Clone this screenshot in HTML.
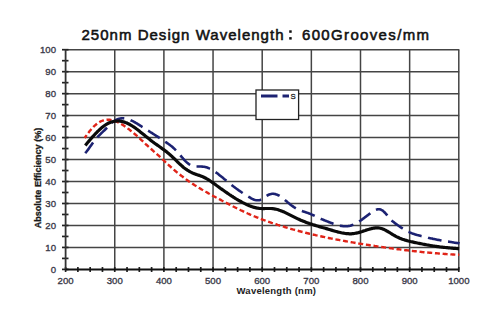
<!DOCTYPE html>
<html><head><meta charset="utf-8"><style>
html,body{margin:0;padding:0;background:#fff;width:500px;height:334px;overflow:hidden}
svg{display:block}
</style></head><body>
<svg width="500" height="334" viewBox="0 0 500 334">
<rect width="500" height="334" fill="#fff"/>
<g font-family="Liberation Sans, sans-serif" font-size="15" fill="#111" stroke="#111" stroke-width="0.55">
<text x="81.5" y="40" textLength="202" lengthAdjust="spacing">250nm Design Wavelength</text>
<rect x="289.2" y="30.3" width="2.5" height="2.5" stroke="none"/><rect x="289.2" y="37.1" width="2.5" height="2.5" stroke="none"/>
<text x="302" y="40" textLength="127" lengthAdjust="spacing">600Grooves/mm</text>
</g>
<g stroke="#444" stroke-width="1.5" fill="none">
<line x1="114.75" y1="49.6" x2="114.75" y2="269.4" /><line x1="163.90" y1="49.6" x2="163.90" y2="269.4" /><line x1="213.05" y1="49.6" x2="213.05" y2="269.4" /><line x1="262.20" y1="49.6" x2="262.20" y2="269.4" /><line x1="311.35" y1="49.6" x2="311.35" y2="269.4" /><line x1="360.50" y1="49.6" x2="360.50" y2="269.4" /><line x1="409.65" y1="49.6" x2="409.65" y2="269.4" /><line x1="458.80" y1="49.6" x2="458.80" y2="269.4" /><line x1="65.6" y1="247.43" x2="459.2" y2="247.43" /><line x1="65.6" y1="225.46" x2="459.2" y2="225.46" /><line x1="65.6" y1="203.49" x2="459.2" y2="203.49" /><line x1="65.6" y1="181.52" x2="459.2" y2="181.52" /><line x1="65.6" y1="159.55" x2="459.2" y2="159.55" /><line x1="65.6" y1="137.58" x2="459.2" y2="137.58" /><line x1="65.6" y1="115.61" x2="459.2" y2="115.61" /><line x1="65.6" y1="93.64" x2="459.2" y2="93.64" /><line x1="65.6" y1="71.67" x2="459.2" y2="71.67" /><line x1="65.6" y1="49.70" x2="459.2" y2="49.70" />
</g>
<rect x="256" y="90" width="42.6" height="29.5" fill="#fff" stroke="#222" stroke-width="1.3"/>
<g stroke="#222" stroke-width="1.7">
<line x1="62" y1="269.40" x2="68.5" y2="269.40" /><line x1="62" y1="258.41" x2="68.5" y2="258.41" /><line x1="62" y1="247.43" x2="68.5" y2="247.43" /><line x1="62" y1="236.44" x2="68.5" y2="236.44" /><line x1="62" y1="225.46" x2="68.5" y2="225.46" /><line x1="62" y1="214.47" x2="68.5" y2="214.47" /><line x1="62" y1="203.49" x2="68.5" y2="203.49" /><line x1="62" y1="192.50" x2="68.5" y2="192.50" /><line x1="62" y1="181.52" x2="68.5" y2="181.52" /><line x1="62" y1="170.53" x2="68.5" y2="170.53" /><line x1="62" y1="159.55" x2="68.5" y2="159.55" /><line x1="62" y1="148.56" x2="68.5" y2="148.56" /><line x1="62" y1="137.58" x2="68.5" y2="137.58" /><line x1="62" y1="126.59" x2="68.5" y2="126.59" /><line x1="62" y1="115.61" x2="68.5" y2="115.61" /><line x1="62" y1="104.62" x2="68.5" y2="104.62" /><line x1="62" y1="93.64" x2="68.5" y2="93.64" /><line x1="62" y1="82.65" x2="68.5" y2="82.65" /><line x1="62" y1="71.67" x2="68.5" y2="71.67" /><line x1="62" y1="60.69" x2="68.5" y2="60.69" /><line x1="62" y1="49.70" x2="68.5" y2="49.70" /><line x1="65.60" y1="267" x2="65.60" y2="272" /><line x1="77.89" y1="267" x2="77.89" y2="272" /><line x1="90.17" y1="267" x2="90.17" y2="272" /><line x1="102.46" y1="267" x2="102.46" y2="272" /><line x1="114.75" y1="267" x2="114.75" y2="272" /><line x1="127.04" y1="267" x2="127.04" y2="272" /><line x1="139.32" y1="267" x2="139.32" y2="272" /><line x1="151.61" y1="267" x2="151.61" y2="272" /><line x1="163.90" y1="267" x2="163.90" y2="272" /><line x1="176.19" y1="267" x2="176.19" y2="272" /><line x1="188.47" y1="267" x2="188.47" y2="272" /><line x1="200.76" y1="267" x2="200.76" y2="272" /><line x1="213.05" y1="267" x2="213.05" y2="272" /><line x1="225.34" y1="267" x2="225.34" y2="272" /><line x1="237.62" y1="267" x2="237.62" y2="272" /><line x1="249.91" y1="267" x2="249.91" y2="272" /><line x1="262.20" y1="267" x2="262.20" y2="272" /><line x1="274.49" y1="267" x2="274.49" y2="272" /><line x1="286.77" y1="267" x2="286.77" y2="272" /><line x1="299.06" y1="267" x2="299.06" y2="272" /><line x1="311.35" y1="267" x2="311.35" y2="272" /><line x1="323.64" y1="267" x2="323.64" y2="272" /><line x1="335.92" y1="267" x2="335.92" y2="272" /><line x1="348.21" y1="267" x2="348.21" y2="272" /><line x1="360.50" y1="267" x2="360.50" y2="272" /><line x1="372.79" y1="267" x2="372.79" y2="272" /><line x1="385.07" y1="267" x2="385.07" y2="272" /><line x1="397.36" y1="267" x2="397.36" y2="272" /><line x1="409.65" y1="267" x2="409.65" y2="272" /><line x1="421.94" y1="267" x2="421.94" y2="272" /><line x1="434.23" y1="267" x2="434.23" y2="272" /><line x1="446.51" y1="267" x2="446.51" y2="272" /><line x1="458.80" y1="267" x2="458.80" y2="272" />
</g>
<line x1="65.6" y1="49.6" x2="65.6" y2="269.5" stroke="#333" stroke-width="1.8"/>
<line x1="65.6" y1="269.5" x2="459.2" y2="269.5" stroke="#111" stroke-width="2"/>
<g font-family="Liberation Sans, sans-serif" font-size="9.6" fill="#3a3a4a" stroke="#3a3a4a" stroke-width="0.35" text-anchor="end">
<text x="56" y="272.60">0</text><text x="56" y="250.63">10</text><text x="56" y="228.66">20</text><text x="56" y="206.69">30</text><text x="56" y="184.72">40</text><text x="56" y="162.75">50</text><text x="56" y="140.78">60</text><text x="56" y="118.81">70</text><text x="56" y="96.84">80</text><text x="56" y="74.87">90</text><text x="56" y="52.90">100</text>
</g>
<g font-family="Liberation Sans, sans-serif" font-size="9.6" fill="#3a3a4a" stroke="#3a3a4a" stroke-width="0.35" text-anchor="middle">
<text x="65.60" y="283.5">200</text><text x="114.75" y="283.5">300</text><text x="163.90" y="283.5">400</text><text x="213.05" y="283.5">500</text><text x="262.20" y="283.5">600</text><text x="311.35" y="283.5">700</text><text x="360.50" y="283.5">800</text><text x="409.65" y="283.5">900</text><text x="458.80" y="283.5">1000</text>
</g>
<text x="236.5" y="293.5" textLength="79.5" lengthAdjust="spacing" font-family="Liberation Sans, sans-serif" font-weight="bold" font-size="9.5" fill="#222">Wavelength (nm)</text>
<text transform="translate(40.8,228.3) rotate(-90)" x="0" y="0" textLength="100.5" lengthAdjust="spacingAndGlyphs" font-family="Liberation Sans, sans-serif" font-weight="bold" font-size="9.5" fill="#1a1a1a" stroke="#1a1a1a" stroke-width="0.3">Absolute Efficiency (%)</text>
<g fill="none" stroke-linecap="butt" stroke-linejoin="round">
<path d="M84.7,138.0 L85.7,136.5 L86.7,135.1 L87.7,133.7 L88.7,132.4 L89.7,131.1 L90.7,129.9 L91.7,128.7 L92.7,127.7 L93.7,126.6 L94.7,125.7 L95.7,124.8 L96.7,124.0 L97.7,123.2 L98.7,122.6 L99.7,122.0 L100.7,121.4 L101.7,121.0 L102.7,120.6 L103.7,120.3 L104.7,120.0 L105.7,119.8 L106.7,119.7 L107.7,119.7 L108.7,119.7 L109.7,119.8 L110.7,119.9 L111.7,120.1 L112.7,120.3 L113.7,120.6 L114.7,120.9 L115.7,121.3 L116.7,121.7 L117.7,122.1 L118.7,122.6 L119.7,123.1 L120.7,123.7 L121.7,124.3 L122.7,124.9 L123.7,125.5 L124.7,126.2 L125.7,126.9 L126.7,127.6 L127.7,128.4 L128.7,129.1 L129.7,129.9 L130.7,130.7 L131.7,131.5 L132.7,132.3 L133.7,133.1 L134.7,134.0 L135.7,134.8 L136.7,135.7 L137.7,136.6 L138.7,137.5 L139.7,138.4 L140.7,139.4 L141.7,140.3 L142.7,141.2 L143.7,142.2 L144.7,143.1 L145.7,144.1 L146.7,145.0 L147.7,145.9 L148.7,146.8 L149.7,147.7 L150.7,148.6 L151.7,149.5 L152.7,150.4 L153.7,151.3 L154.7,152.2 L155.7,153.0 L156.7,153.9 L157.7,154.8 L158.7,155.7 L159.7,156.6 L160.7,157.6 L161.7,158.5 L162.7,159.4 L163.7,160.4 L164.7,161.3 L165.7,162.3 L166.7,163.2 L167.7,164.2 L168.7,165.1 L169.7,166.0 L170.7,166.9 L171.7,167.8 L172.7,168.7 L173.7,169.6 L174.7,170.4 L175.7,171.3 L176.7,172.1 L177.7,172.9 L178.7,173.7 L179.7,174.5 L180.7,175.3 L181.7,176.1 L182.7,176.8 L183.7,177.6 L184.7,178.3 L185.7,179.0 L186.7,179.8 L187.7,180.5 L188.7,181.2 L189.7,181.9 L190.7,182.5 L191.7,183.2 L192.7,183.9 L193.7,184.5 L194.7,185.2 L195.7,185.8 L196.7,186.4 L197.7,187.0 L198.7,187.7 L199.7,188.3 L200.7,188.9 L201.7,189.5 L202.7,190.0 L203.7,190.6 L204.7,191.2 L205.7,191.8 L206.7,192.3 L207.7,192.9 L208.7,193.5 L209.7,194.0 L210.7,194.6 L211.7,195.1 L212.7,195.7 L213.7,196.2 L214.7,196.7 L215.7,197.3 L216.7,197.8 L217.7,198.3 L218.7,198.9 L219.7,199.4 L220.7,199.9 L221.7,200.5 L222.7,201.0 L223.7,201.5 L224.7,202.0 L225.7,202.6 L226.7,203.1 L227.7,203.6 L228.7,204.1 L229.7,204.6 L230.7,205.2 L231.7,205.7 L232.7,206.2 L233.7,206.7 L234.7,207.2 L235.7,207.7 L236.7,208.2 L237.7,208.7 L238.7,209.2 L239.7,209.7 L240.7,210.2 L241.7,210.7 L242.7,211.1 L243.7,211.6 L244.7,212.1 L245.7,212.6 L246.7,213.0 L247.7,213.5 L248.7,213.9 L249.7,214.4 L250.7,214.8 L251.7,215.2 L252.7,215.7 L253.7,216.1 L254.7,216.5 L255.7,216.9 L256.7,217.3 L257.7,217.7 L258.7,218.1 L259.7,218.5 L260.7,218.9 L261.7,219.3 L262.7,219.7 L263.7,220.0 L264.7,220.4 L265.7,220.8 L266.7,221.1 L267.7,221.5 L268.7,221.8 L269.7,222.2 L270.7,222.5 L271.7,222.9 L272.7,223.2 L273.7,223.5 L274.7,223.9 L275.7,224.2 L276.7,224.5 L277.7,224.9 L278.7,225.2 L279.7,225.5 L280.7,225.8 L281.7,226.1 L282.7,226.4 L283.7,226.7 L284.7,227.0 L285.7,227.3 L286.7,227.6 L287.7,227.9 L288.7,228.2 L289.7,228.5 L290.7,228.8 L291.7,229.1 L292.7,229.4 L293.7,229.6 L294.7,229.9 L295.7,230.2 L296.7,230.5 L297.7,230.7 L298.7,231.0 L299.7,231.3 L300.7,231.5 L301.7,231.8 L302.7,232.0 L303.7,232.3 L304.7,232.5 L305.7,232.8 L306.7,233.0 L307.7,233.3 L308.7,233.5 L309.7,233.8 L310.7,234.0 L311.7,234.2 L312.7,234.5 L313.7,234.7 L314.7,234.9 L315.7,235.2 L316.7,235.4 L317.7,235.6 L318.7,235.9 L319.7,236.1 L320.7,236.3 L321.7,236.5 L322.7,236.7 L323.7,236.9 L324.7,237.1 L325.7,237.4 L326.7,237.6 L327.7,237.8 L328.7,238.0 L329.7,238.2 L330.7,238.4 L331.7,238.6 L332.7,238.8 L333.7,239.0 L334.7,239.2 L335.7,239.4 L336.7,239.6 L337.7,239.7 L338.7,239.9 L339.7,240.1 L340.7,240.3 L341.7,240.5 L342.7,240.7 L343.7,240.9 L344.7,241.0 L345.7,241.2 L346.7,241.4 L347.7,241.6 L348.7,241.8 L349.7,241.9 L350.7,242.1 L351.7,242.3 L352.7,242.4 L353.7,242.6 L354.7,242.8 L355.7,243.0 L356.7,243.1 L357.7,243.3 L358.7,243.5 L359.7,243.6 L360.7,243.8 L361.7,243.9 L362.7,244.1 L363.7,244.3 L364.7,244.4 L365.7,244.6 L366.7,244.7 L367.7,244.9 L368.7,245.0 L369.7,245.2 L370.7,245.4 L371.7,245.5 L372.7,245.7 L373.7,245.8 L374.7,246.0 L375.7,246.1 L376.7,246.3 L377.7,246.4 L378.7,246.6 L379.7,246.7 L380.7,246.9 L381.7,247.0 L382.7,247.1 L383.7,247.3 L384.7,247.4 L385.7,247.6 L386.7,247.7 L387.7,247.8 L388.7,248.0 L389.7,248.1 L390.7,248.3 L391.7,248.4 L392.7,248.5 L393.7,248.7 L394.7,248.8 L395.7,248.9 L396.7,249.1 L397.7,249.2 L398.7,249.3 L399.7,249.4 L400.7,249.6 L401.7,249.7 L402.7,249.8 L403.7,249.9 L404.7,250.1 L405.7,250.2 L406.7,250.3 L407.7,250.4 L408.7,250.5 L409.7,250.7 L410.7,250.8 L411.7,250.9 L412.7,251.0 L413.7,251.1 L414.7,251.2 L415.7,251.3 L416.7,251.4 L417.7,251.5 L418.7,251.6 L419.7,251.7 L420.7,251.9 L421.7,252.0 L422.7,252.1 L423.7,252.2 L424.7,252.3 L425.7,252.4 L426.7,252.4 L427.7,252.5 L428.7,252.6 L429.7,252.7 L430.7,252.8 L431.7,252.9 L432.7,253.0 L433.7,253.1 L434.7,253.2 L435.7,253.3 L436.7,253.3 L437.7,253.4 L438.7,253.5 L439.7,253.6 L440.7,253.7 L441.7,253.7 L442.7,253.8 L443.7,253.9 L444.7,254.0 L445.7,254.0 L446.7,254.1 L447.7,254.2 L448.7,254.2 L449.7,254.3 L450.7,254.4 L451.7,254.4 L452.7,254.5 L453.7,254.5 L454.7,254.6 L455.7,254.7 L456.7,254.7 L457.7,254.8 L458.7,254.8 L459.3,254.9" stroke="#e02418" stroke-width="2.4" stroke-dasharray="5.00 2.74" stroke-dashoffset="1.54"/>
<path d="M85.2,153.2 L86.2,152.0 L87.2,150.7 L88.2,149.4 L89.2,148.0 L90.2,146.6 L91.2,145.2 L92.2,143.8 L93.2,142.4 L94.2,141.1 L95.2,139.8 L96.2,138.6 L97.2,137.4 L98.2,136.3 L99.2,135.3 L100.2,134.3 L101.2,133.3 L102.2,132.4 L103.2,131.4 L104.2,130.5 L105.2,129.5 L106.2,128.5 L107.2,127.5 L108.2,126.5 L109.2,125.4 L110.2,124.4 L111.2,123.5 L112.2,122.6 L113.2,121.8 L114.2,121.0 L115.2,120.4 L116.2,119.8 L117.2,119.4 L118.2,119.0 L119.2,118.7 L120.2,118.5 L121.2,118.4 L122.2,118.3 L123.2,118.3 L124.2,118.4 L125.2,118.5 L126.2,118.7 L127.2,119.0 L128.2,119.3 L129.2,119.6 L130.2,120.0 L131.2,120.5 L132.2,120.9 L133.2,121.4 L134.2,122.0 L135.2,122.5 L136.2,123.1 L137.2,123.7 L138.2,124.3 L139.2,124.9 L140.2,125.6 L141.2,126.2 L142.2,126.9 L143.2,127.5 L144.2,128.1 L145.2,128.8 L146.2,129.4 L147.2,130.1 L148.2,130.7 L149.2,131.3 L150.2,132.0 L151.2,132.6 L152.2,133.2 L153.2,133.9 L154.2,134.5 L155.2,135.2 L156.2,135.8 L157.2,136.4 L158.2,137.1 L159.2,137.7 L160.2,138.4 L161.2,139.0 L162.2,139.7 L163.2,140.4 L164.2,141.0 L165.2,141.7 L166.2,142.4 L167.2,143.1 L168.2,143.8 L169.2,144.5 L170.2,145.3 L171.2,146.0 L172.2,146.8 L173.2,147.7 L174.2,148.6 L175.2,149.6 L176.2,150.6 L177.2,151.7 L178.2,152.8 L179.2,154.0 L180.2,155.1 L181.2,156.3 L182.2,157.5 L183.2,158.7 L184.2,159.8 L185.2,160.9 L186.2,161.9 L187.2,162.8 L188.2,163.6 L189.2,164.3 L190.2,164.9 L191.2,165.4 L192.2,165.8 L193.2,166.1 L194.2,166.3 L195.2,166.4 L196.2,166.5 L197.2,166.5 L198.2,166.5 L199.2,166.5 L200.2,166.5 L201.2,166.5 L202.2,166.6 L203.2,166.7 L204.2,166.8 L205.2,167.0 L206.2,167.3 L207.2,167.6 L208.2,167.9 L209.2,168.4 L210.2,168.8 L211.2,169.4 L212.2,169.9 L213.2,170.5 L214.2,171.2 L215.2,171.9 L216.2,172.6 L217.2,173.3 L218.2,174.1 L219.2,174.9 L220.2,175.7 L221.2,176.5 L222.2,177.3 L223.2,178.1 L224.2,179.0 L225.2,179.8 L226.2,180.6 L227.2,181.5 L228.2,182.3 L229.2,183.1 L230.2,183.9 L231.2,184.7 L232.2,185.5 L233.2,186.3 L234.2,187.0 L235.2,187.8 L236.2,188.5 L237.2,189.2 L238.2,189.9 L239.2,190.7 L240.2,191.3 L241.2,192.0 L242.2,192.7 L243.2,193.4 L244.2,194.0 L245.2,194.6 L246.2,195.3 L247.2,195.9 L248.2,196.5 L249.2,197.1 L250.2,197.7 L251.2,198.3 L252.2,198.8 L253.2,199.3 L254.2,199.7 L255.2,200.0 L256.2,200.2 L257.2,200.3 L258.2,200.3 L259.2,200.2 L260.2,199.9 L261.2,199.4 L262.2,198.9 L263.2,198.2 L264.2,197.5 L265.2,196.8 L266.2,196.1 L267.2,195.5 L268.2,195.0 L269.2,194.5 L270.2,194.2 L271.2,194.0 L272.2,193.8 L273.2,193.8 L274.2,193.9 L275.2,194.1 L276.2,194.4 L277.2,194.8 L278.2,195.2 L279.2,195.7 L280.2,196.3 L281.2,197.0 L282.2,197.7 L283.2,198.5 L284.2,199.3 L285.2,200.2 L286.2,201.0 L287.2,201.9 L288.2,202.7 L289.2,203.6 L290.2,204.4 L291.2,205.2 L292.2,205.9 L293.2,206.6 L294.2,207.3 L295.2,207.9 L296.2,208.5 L297.2,209.0 L298.2,209.5 L299.2,209.9 L300.2,210.3 L301.2,210.7 L302.2,211.1 L303.2,211.4 L304.2,211.7 L305.2,212.1 L306.2,212.4 L307.2,212.8 L308.2,213.1 L309.2,213.5 L310.2,213.9 L311.2,214.3 L312.2,214.8 L313.2,215.2 L314.2,215.7 L315.2,216.2 L316.2,216.6 L317.2,217.1 L318.2,217.6 L319.2,218.1 L320.2,218.5 L321.2,219.0 L322.2,219.4 L323.2,219.8 L324.2,220.2 L325.2,220.6 L326.2,221.0 L327.2,221.4 L328.2,221.8 L329.2,222.2 L330.2,222.6 L331.2,222.9 L332.2,223.3 L333.2,223.7 L334.2,224.0 L335.2,224.3 L336.2,224.6 L337.2,224.9 L338.2,225.2 L339.2,225.5 L340.2,225.7 L341.2,225.9 L342.2,226.0 L343.2,226.2 L344.2,226.2 L345.2,226.3 L346.2,226.3 L347.2,226.2 L348.2,226.1 L349.2,225.9 L350.2,225.7 L351.2,225.4 L352.2,225.1 L353.2,224.7 L354.2,224.3 L355.2,223.8 L356.2,223.2 L357.2,222.7 L358.2,222.1 L359.2,221.4 L360.2,220.8 L361.2,220.1 L362.2,219.4 L363.2,218.6 L364.2,217.9 L365.2,217.1 L366.2,216.4 L367.2,215.6 L368.2,214.9 L369.2,214.1 L370.2,213.4 L371.2,212.6 L372.2,211.9 L373.2,211.3 L374.2,210.7 L375.2,210.2 L376.2,209.8 L377.2,209.4 L378.2,209.3 L379.2,209.3 L380.2,209.4 L381.2,209.8 L382.2,210.3 L383.2,211.1 L384.2,212.0 L385.2,213.0 L386.2,214.2 L387.2,215.4 L388.2,216.7 L389.2,217.9 L390.2,219.0 L391.2,220.0 L392.2,221.0 L393.2,221.8 L394.2,222.6 L395.2,223.4 L396.2,224.1 L397.2,224.8 L398.2,225.5 L399.2,226.2 L400.2,226.9 L401.2,227.6 L402.2,228.2 L403.2,228.9 L404.2,229.5 L405.2,230.1 L406.2,230.6 L407.2,231.2 L408.2,231.7 L409.2,232.1 L410.2,232.6 L411.2,233.0 L412.2,233.4 L413.2,233.7 L414.2,234.1 L415.2,234.4 L416.2,234.7 L417.2,235.0 L418.2,235.2 L419.2,235.5 L420.2,235.8 L421.2,236.1 L422.2,236.3 L423.2,236.6 L424.2,236.8 L425.2,237.1 L426.2,237.3 L427.2,237.5 L428.2,237.8 L429.2,238.0 L430.2,238.2 L431.2,238.4 L432.2,238.6 L433.2,238.9 L434.2,239.1 L435.2,239.3 L436.2,239.5 L437.2,239.7 L438.2,239.9 L439.2,240.0 L440.2,240.2 L441.2,240.4 L442.2,240.6 L443.2,240.8 L444.2,240.9 L445.2,241.1 L446.2,241.3 L447.2,241.5 L448.2,241.6 L449.2,241.8 L450.2,241.9 L451.2,242.1 L452.2,242.3 L453.2,242.4 L454.2,242.6 L455.2,242.7 L456.2,242.9 L457.2,243.0 L458.2,243.1 L459.2,243.3 L459.5,243.4" stroke="#1c2272" stroke-width="2.6" stroke-dasharray="13.80 6.62" stroke-dashoffset="0.52"/>
<path d="M85.3,145.4 L86.3,144.2 L87.3,143.0 L88.3,141.8 L89.3,140.7 L90.3,139.5 L91.3,138.3 L92.3,137.2 L93.3,136.1 L94.3,135.0 L95.3,133.9 L96.3,132.9 L97.3,131.8 L98.3,130.9 L99.3,129.9 L100.3,129.0 L101.3,128.1 L102.3,127.3 L103.3,126.5 L104.3,125.7 L105.3,125.0 L106.3,124.4 L107.3,123.8 L108.3,123.3 L109.3,122.8 L110.3,122.4 L111.3,122.0 L112.3,121.7 L113.3,121.5 L114.3,121.3 L115.3,121.2 L116.3,121.1 L117.3,121.0 L118.3,121.0 L119.3,121.1 L120.3,121.2 L121.3,121.4 L122.3,121.6 L123.3,121.8 L124.3,122.1 L125.3,122.5 L126.3,122.8 L127.3,123.3 L128.3,123.7 L129.3,124.2 L130.3,124.8 L131.3,125.4 L132.3,126.0 L133.3,126.7 L134.3,127.3 L135.3,128.0 L136.3,128.8 L137.3,129.5 L138.3,130.3 L139.3,131.1 L140.3,131.9 L141.3,132.7 L142.3,133.5 L143.3,134.3 L144.3,135.1 L145.3,135.9 L146.3,136.7 L147.3,137.5 L148.3,138.3 L149.3,139.1 L150.3,139.9 L151.3,140.7 L152.3,141.5 L153.3,142.2 L154.3,143.0 L155.3,143.7 L156.3,144.4 L157.3,145.1 L158.3,145.8 L159.3,146.5 L160.3,147.2 L161.3,147.9 L162.3,148.7 L163.3,149.4 L164.3,150.1 L165.3,150.9 L166.3,151.6 L167.3,152.4 L168.3,153.2 L169.3,154.1 L170.3,155.0 L171.3,155.9 L172.3,156.8 L173.3,157.8 L174.3,158.7 L175.3,159.7 L176.3,160.7 L177.3,161.7 L178.3,162.6 L179.3,163.6 L180.3,164.5 L181.3,165.4 L182.3,166.3 L183.3,167.2 L184.3,168.0 L185.3,168.7 L186.3,169.4 L187.3,170.1 L188.3,170.7 L189.3,171.3 L190.3,171.9 L191.3,172.4 L192.3,172.9 L193.3,173.3 L194.3,173.7 L195.3,174.1 L196.3,174.4 L197.3,174.8 L198.3,175.1 L199.3,175.4 L200.3,175.8 L201.3,176.2 L202.3,176.6 L203.3,177.0 L204.3,177.5 L205.3,178.0 L206.3,178.5 L207.3,179.1 L208.3,179.7 L209.3,180.3 L210.3,181.0 L211.3,181.7 L212.3,182.4 L213.3,183.1 L214.3,183.8 L215.3,184.5 L216.3,185.3 L217.3,186.0 L218.3,186.7 L219.3,187.4 L220.3,188.2 L221.3,188.9 L222.3,189.6 L223.3,190.3 L224.3,191.0 L225.3,191.7 L226.3,192.4 L227.3,193.1 L228.3,193.8 L229.3,194.5 L230.3,195.1 L231.3,195.8 L232.3,196.4 L233.3,197.1 L234.3,197.7 L235.3,198.4 L236.3,199.0 L237.3,199.6 L238.3,200.2 L239.3,200.7 L240.3,201.3 L241.3,201.8 L242.3,202.4 L243.3,202.9 L244.3,203.4 L245.3,203.9 L246.3,204.4 L247.3,204.8 L248.3,205.3 L249.3,205.7 L250.3,206.1 L251.3,206.4 L252.3,206.8 L253.3,207.1 L254.3,207.4 L255.3,207.6 L256.3,207.9 L257.3,208.1 L258.3,208.2 L259.3,208.4 L260.3,208.5 L261.3,208.5 L262.3,208.6 L263.3,208.6 L264.3,208.6 L265.3,208.5 L266.3,208.5 L267.3,208.5 L268.3,208.5 L269.3,208.5 L270.3,208.5 L271.3,208.5 L272.3,208.6 L273.3,208.7 L274.3,208.9 L275.3,209.1 L276.3,209.3 L277.3,209.5 L278.3,209.8 L279.3,210.2 L280.3,210.5 L281.3,210.9 L282.3,211.3 L283.3,211.7 L284.3,212.1 L285.3,212.6 L286.3,213.1 L287.3,213.6 L288.3,214.1 L289.3,214.6 L290.3,215.1 L291.3,215.6 L292.3,216.1 L293.3,216.6 L294.3,217.1 L295.3,217.6 L296.3,218.1 L297.3,218.6 L298.3,219.1 L299.3,219.5 L300.3,220.0 L301.3,220.4 L302.3,220.8 L303.3,221.2 L304.3,221.6 L305.3,222.0 L306.3,222.4 L307.3,222.8 L308.3,223.1 L309.3,223.5 L310.3,223.8 L311.3,224.1 L312.3,224.5 L313.3,224.8 L314.3,225.1 L315.3,225.4 L316.3,225.7 L317.3,226.0 L318.3,226.3 L319.3,226.6 L320.3,226.9 L321.3,227.2 L322.3,227.5 L323.3,227.7 L324.3,228.0 L325.3,228.3 L326.3,228.6 L327.3,228.9 L328.3,229.2 L329.3,229.5 L330.3,229.8 L331.3,230.1 L332.3,230.4 L333.3,230.7 L334.3,231.0 L335.3,231.3 L336.3,231.5 L337.3,231.8 L338.3,232.1 L339.3,232.3 L340.3,232.5 L341.3,232.8 L342.3,233.0 L343.3,233.1 L344.3,233.3 L345.3,233.5 L346.3,233.6 L347.3,233.7 L348.3,233.7 L349.3,233.8 L350.3,233.8 L351.3,233.8 L352.3,233.7 L353.3,233.6 L354.3,233.5 L355.3,233.3 L356.3,233.1 L357.3,232.9 L358.3,232.7 L359.3,232.4 L360.3,232.1 L361.3,231.8 L362.3,231.5 L363.3,231.1 L364.3,230.8 L365.3,230.5 L366.3,230.1 L367.3,229.8 L368.3,229.5 L369.3,229.2 L370.3,228.9 L371.3,228.7 L372.3,228.4 L373.3,228.2 L374.3,228.1 L375.3,227.9 L376.3,227.9 L377.3,227.9 L378.3,227.9 L379.3,228.0 L380.3,228.2 L381.3,228.5 L382.3,228.8 L383.3,229.2 L384.3,229.6 L385.3,230.1 L386.3,230.7 L387.3,231.2 L388.3,231.8 L389.3,232.4 L390.3,233.0 L391.3,233.7 L392.3,234.3 L393.3,234.9 L394.3,235.5 L395.3,236.0 L396.3,236.6 L397.3,237.1 L398.3,237.5 L399.3,238.0 L400.3,238.4 L401.3,238.8 L402.3,239.2 L403.3,239.5 L404.3,239.8 L405.3,240.2 L406.3,240.4 L407.3,240.7 L408.3,241.0 L409.3,241.2 L410.3,241.5 L411.3,241.7 L412.3,241.9 L413.3,242.1 L414.3,242.4 L415.3,242.6 L416.3,242.8 L417.3,243.0 L418.3,243.2 L419.3,243.4 L420.3,243.6 L421.3,243.8 L422.3,244.0 L423.3,244.2 L424.3,244.4 L425.3,244.6 L426.3,244.8 L427.3,245.0 L428.3,245.1 L429.3,245.3 L430.3,245.5 L431.3,245.7 L432.3,245.8 L433.3,246.0 L434.3,246.1 L435.3,246.3 L436.3,246.4 L437.3,246.6 L438.3,246.7 L439.3,246.8 L440.3,247.0 L441.3,247.1 L442.3,247.2 L443.3,247.3 L444.3,247.4 L445.3,247.5 L446.3,247.6 L447.3,247.7 L448.3,247.8 L449.3,247.9 L450.3,248.0 L451.3,248.1 L452.3,248.2 L453.3,248.3 L454.3,248.4 L455.3,248.4 L456.3,248.5 L457.3,248.6 L458.3,248.7 L459.1,248.7" stroke="#0a0a0a" stroke-width="3.2"/>
</g>
<line x1="261" y1="96" x2="277.5" y2="96" stroke="#1c2272" stroke-width="3"/>
<line x1="282.5" y1="96" x2="289" y2="96" stroke="#1c2272" stroke-width="3"/>
<text x="290.6" y="98.9" font-family="Liberation Sans, sans-serif" font-size="7.8" fill="#222" stroke="#222" stroke-width="0.3">S</text>
</svg>
</body></html>
